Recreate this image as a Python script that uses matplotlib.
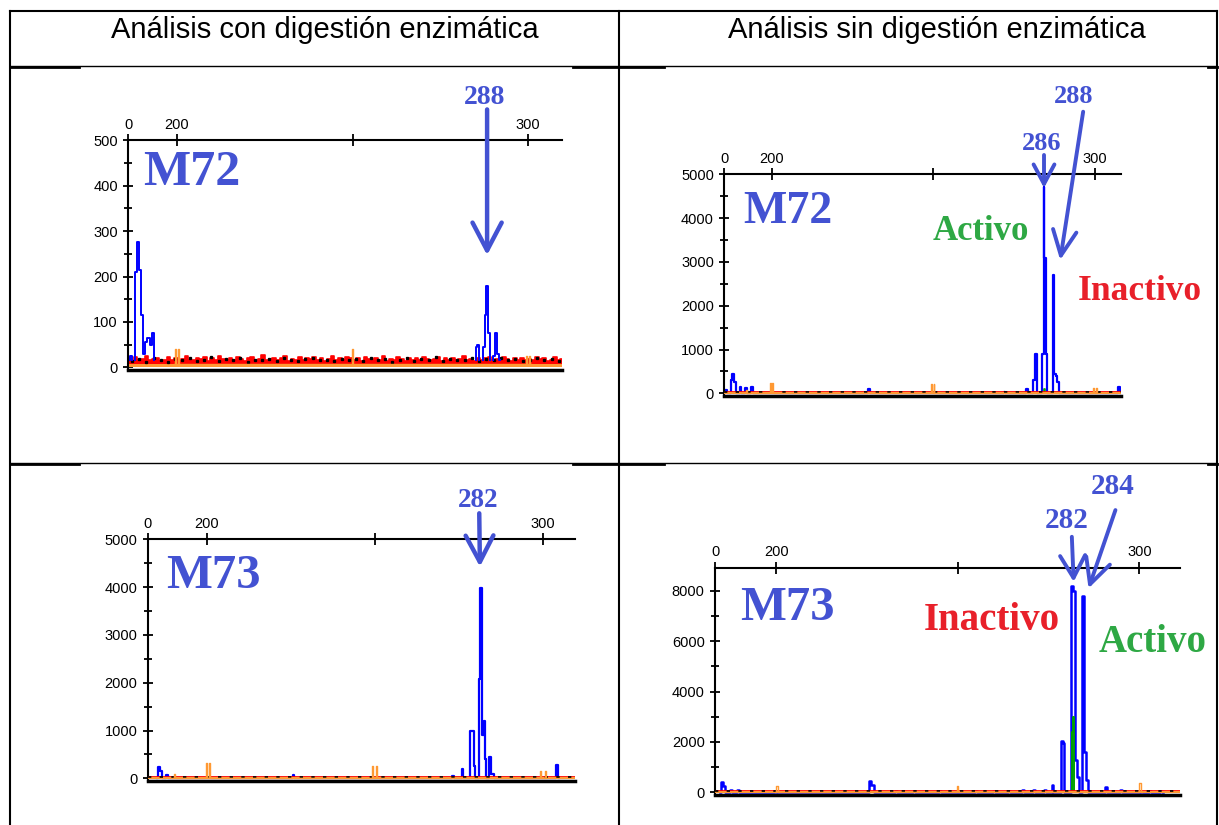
import matplotlib.pyplot as plt
import numpy as np
from matplotlib.ticker import MultipleLocator

plt.rcParams['font.family'] = ['Liberation Sans', 'DejaVu Sans']

# column headers
headers = ['Análisis con digestión enzimática', 'Análisis sin digestión enzimática']

# x tick labels of every electropherogram (top axis)
xtick_pos = [200, 250, 300]
xtick_labels = ['0', '200', '', '300']

# --- M72, with digestion (blue = main dye, orange = size standard)
m72_dig_blue_bp = [187.0, 188.4, 189.1, 189.6, 190.0, 190.5, 191.2, 191.8, 192.7, 193.3,
                   285.3, 285.8, 287.4, 287.9, 288.3, 288.9, 290.3, 291.0, 291.5]
m72_dig_blue_h = [25, 210, 275, 215, 115, 30, 55, 65, 50, 75,
                  45, 50, 45, 115, 180, 75, 25, 75, 30]
m72_dig_orange_bp = [199.6, 200.5, 250.0, 299.6, 300.4]
m72_dig_orange_h = [40, 40, 40, 25, 25]
m72_dig_red_noise = [20, 14, 22, 16, 19, 24, 15, 18, 21, 13, 17, 23, 16, 20, 14, 19, 25, 17,
                     15, 21, 18, 22, 14, 20, 16, 24, 19, 15, 21, 17, 23, 18, 14, 20, 22, 16,
                     19, 27, 15, 18, 21, 16, 20, 24, 14, 19, 17, 22, 15, 21, 18, 23, 16, 20,
                     14, 19, 24, 17, 21, 15, 22, 20, 16, 21, 14, 23, 18, 15, 20, 17, 24, 14,
                     19, 16, 22, 18, 13, 21, 17, 20, 15, 23, 19, 16, 18, 22, 14, 20, 17, 21,
                     15, 19, 24, 16, 18, 14, 21, 17, 20, 22, 15, 19, 16, 23, 18, 14, 20, 17,
                     21, 16, 19, 15, 22, 18, 20, 14, 17, 23, 16, 19]
m72_dig_black_noise = [14, 18, 12, 20, 16, 11, 19, 15, 21, 13, 17, 22, 14, 18, 16, 20, 12, 17,
                       15, 19, 13, 21, 16, 14, 18, 20, 15, 17, 13, 19, 16, 18, 14, 21, 15, 19,
                       12, 17, 20, 14, 18, 16, 22, 13, 19, 15, 17, 20, 14, 18, 16, 21, 15, 19,
                       13, 17, 20, 16, 18, 14]

# --- M72, without digestion
m72_nodig_blue_bp = [186.0, 187.6, 188.2, 188.8, 190.4, 192.1, 194.0, 230.2, 272.0, 279.0,
                     281.1, 281.7, 283.9, 284.2, 284.5, 284.9, 287.1, 287.5, 288.1, 288.6,
                     307.4]
m72_nodig_blue_h = [80, 300, 450, 250, 150, 120, 150, 100, 30, 100,
                    300, 900, 900, 4720, 3100, 900, 2700, 450, 400, 250,
                    150]
m72_nodig_green_bp = [284.3]
m72_nodig_green_h = [100]
m72_nodig_orange_bp = [192.3, 199.6, 200.4, 249.4, 250.2, 299.4, 300.4]
m72_nodig_orange_h = [80, 230, 230, 220, 220, 120, 120]

# --- M73, with digestion
m73_dig_blue_bp = [185.6, 186.5, 188.2, 225.8, 273.2, 276.1, 278.6, 279.2, 279.6, 281.2,
                   281.7, 282.2, 282.6, 282.8, 284.3, 285.1, 304.2]
m73_dig_blue_h = [230, 150, 60, 60, 50, 200, 1000, 1000, 250, 2080,
                  3980, 900, 1200, 400, 450, 100, 280]
m73_dig_orange_bp = [190.3, 199.8, 200.8, 249.4, 250.6, 299.2, 300.7]
m73_dig_orange_h = [90, 310, 310, 250, 250, 150, 150]

# --- M73, without digestion
m73_nodig_blue_bp = [185.0, 185.7, 187.5, 189.5, 225.7, 226.7, 233.0, 238.0, 245.0, 255.0,
                     260.0, 264.0, 268.0, 271.0, 274.0, 276.1, 278.6, 279.1, 281.5, 281.9,
                     282.5, 283.0, 284.5, 285.0, 285.5, 290.9, 295.0, 303.0, 306.0]
m73_nodig_blue_h = [400, 250, 100, 100, 450, 300, 60, 60, 60, 60,
                    70, 70, 80, 80, 90, 300, 2050, 1950, 8200, 8000,
                    1300, 600, 7800, 1600, 500, 200, 80, 60, 60]
m73_nodig_green_bp = [281.5, 281.9]
m73_nodig_green_h = [2400, 3000]
m73_nodig_orange_bp = [200.2, 250.0, 300.2]
m73_nodig_orange_h = [250, 250, 350]

BLUE_TXT = '#4352d2'
RED_TXT = '#e8202a'
GREEN_TXT = '#2ea844'
ORANGE = '#ff9933'
SERIF = ['Liberation Serif', 'DejaVu Serif']

W, H = 1219, 825
fig = plt.figure(figsize=(W / 100, H / 100), dpi=100)

# table frame, in pixel coordinates
bg = fig.add_axes([0, 0, 1, 1])
bg.set_xlim(0, W)
bg.set_ylim(H, 0)
bg.axis('off')
for x in (10, 619, 1217):
    bg.plot([x, x], [11, H], color='k', lw=1.5)
bg.plot([10, 1217], [11, 11], color='k', lw=1.5)
for y in (66, 463):
    bg.plot([10, 1217], [y, y], color='k', lw=1.0)
    for a, b in ((10, 79), (573, 664), (1208, 1217)):
        bg.plot([a, b], [y + 0.5, y + 0.5], color='k', lw=2.0)
bg.text(325, 38.5, headers[0], ha='center', va='baseline', fontsize=21)
bg.text(937, 38.5, headers[1], ha='center', va='baseline', fontsize=21)


def trace(bp, h, w=0.5, base=0.0, gaps=False):
    xs, ys = [], []
    prev = None
    for x, y in sorted(zip(bp, h)):
        if prev is None or x - prev > 2.5 * w:
            if prev is not None:
                xs.append(prev + w)
                ys.append(base)
                if gaps:
                    xs.append(np.nan)
                    ys.append(np.nan)
            xs.append(x - w)
            ys.append(base)
        xs.append(x)
        ys.append(y)
        prev = x
    xs.append(prev + w)
    ys.append(base)
    return xs, ys


def panel(left, right, top, zero, ymax, ystep, xlim):
    pad = 0.012
    bottom = zero + pad * (zero - top)
    ax = fig.add_axes([left / W, 1 - bottom / H, (right - left) / W, (bottom - top) / H])
    ax.set_facecolor('none')
    ax.set_xlim(xlim)
    ax.set_ylim(-pad * ymax, ymax)
    ax.spines['right'].set_visible(False)
    ax.spines['top'].set_linewidth(1.5)
    ax.spines['left'].set_linewidth(1.5)
    ax.spines['bottom'].set_linewidth(2.5)
    ax.xaxis.tick_top()
    ax.set_xticks([xlim[0]] + xtick_pos)
    ax.set_xticklabels(xtick_labels)
    ax.set_yticks(np.arange(0, ymax + 1, ystep))
    ax.yaxis.set_minor_locator(MultipleLocator(ystep / 2))
    ax.tick_params(axis='x', direction='inout', length=8, width=1.3, pad=2, labelsize=10.5)
    ax.tick_params(axis='y', which='major', direction='inout', length=7, width=1.3,
                   pad=4, labelsize=10.5)
    ax.tick_params(axis='y', which='minor', direction='inout', length=6, width=1.3)
    return ax


def baseline(ax, ymax):
    x0, x1 = ax.get_xlim()
    ax.plot([x0, x1], [0.007 * ymax] * 2, color='#ff0000', lw=2, zorder=3)
    ax.plot([x0, x1], [0.0] * 2, color=ORANGE, lw=1.5, zorder=3)
    ax.plot([x0, x1], [0.005 * ymax] * 2, color='k', lw=1.2, ls=(0, (2, 5)), zorder=3)


def arrow(ax, tail, tip, hl, hw, lw=3.2):
    ax.annotate('', xy=tip, xytext=tail, annotation_clip=False,
                arrowprops=dict(arrowstyle=f'->,head_length={hl},head_width={hw}',
                                lw=lw, color=BLUE_TXT, shrinkA=0, shrinkB=0,
                                mutation_scale=10))


def label(ax, x, y, s, size, color=BLUE_TXT, ha='left'):
    ax.text(x, y, s, ha=ha, va='baseline', fontsize=size, color=color,
            family=SERIF, fontweight='bold', clip_on=False)


# ---------------- M72 with digestion
ax = panel(128.3, 562.3, 140.3, 367.3, 500, 100, (186.2, 309.7))
x0, x1 = ax.get_xlim()
xn = np.linspace(x0, x1, len(m72_dig_red_noise))
ax.fill_between(xn, 0, m72_dig_red_noise, step='mid', color='#ff0000', lw=0, zorder=2)
ax.plot(xn, m72_dig_red_noise, drawstyle='steps-mid', color='#ff0000', lw=1.2, zorder=2.05)
ax.fill_between([x0, x1], 0, 8, color=ORANGE, lw=0, zorder=2.1)
ax.plot(np.linspace(x0 + 1, x1 - 1, len(m72_dig_black_noise)), m72_dig_black_noise,
        ls='none', marker='s', ms=1.4, color='k', zorder=2.2)
xs, ys = trace(m72_dig_orange_bp, m72_dig_orange_h, w=0.3, base=8)
ax.plot(xs, ys, drawstyle='steps-mid', color=ORANGE, lw=1.0, zorder=2.3)
xs, ys = trace(m72_dig_blue_bp, m72_dig_blue_h, base=15, gaps=True)
ax.plot(xs, ys, drawstyle='steps-mid', color='#0000ff', lw=1.4, zorder=2.4)
label(ax, 190.5, 401, 'M72', 36)
label(ax, 287.7, 580, '288', 20, ha='center')
arrow(ax, (288.3, 568), (288.3, 247), 2.0, 1.05)

# ---------------- M72 without digestion
ax = panel(724.3, 1120.7, 174.3, 393.3, 5000, 1000, (185.4, 307.9))
xs, ys = trace(m72_nodig_blue_bp, m72_nodig_blue_h)
ax.plot(xs, ys, drawstyle='steps-mid', color='#0000ff', lw=1.6, zorder=2)
xs, ys = trace(m72_nodig_green_bp, m72_nodig_green_h)
ax.plot(xs, ys, drawstyle='steps-mid', color='#00a000', lw=1.2, zorder=2.1)
baseline(ax, 5000)
xs, ys = trace(m72_nodig_orange_bp, m72_nodig_orange_h, w=0.3)
ax.plot(xs, ys, drawstyle='steps-mid', color=ORANGE, lw=1.0, zorder=3.2)
label(ax, 191.2, 3881, 'M72', 33)
label(ax, 283.6, 5555, '286', 19, ha='center')
label(ax, 293.5, 6621, '288', 19, ha='center')
label(ax, 249.9, 3500, 'Activo', 25, color=GREEN_TXT)
label(ax, 294.7, 2130, 'Inactivo', 25.5, color=RED_TXT)
arrow(ax, (284.2, 5441), (284.2, 4687), 1.4, 0.75, lw=2.8)
arrow(ax, (296.3, 6429), (289.2, 3043), 1.8, 0.85, lw=2.8)

# ---------------- M73 with digestion
ax = panel(148, 575, 539.3, 778.3, 5000, 1000, (182.5, 309.6))
xs, ys = trace(m73_dig_blue_bp, m73_dig_blue_h)
ax.plot(xs, ys, drawstyle='steps-mid', color='#0000ff', lw=1.6, zorder=2)
baseline(ax, 5000)
xs, ys = trace(m73_dig_orange_bp, m73_dig_orange_h, w=0.3)
ax.plot(xs, ys, drawstyle='steps-mid', color=ORANGE, lw=1.0, zorder=3.2)
label(ax, 187.9, 3975, 'M73', 35)
label(ax, 280.7, 5669, '282', 19.5, ha='center')
arrow(ax, (281.1, 5544), (281.3, 4427), 1.9, 1.0)

# ---------------- M73 without digestion
ax = panel(715.1, 1180.1, 567.7, 792.3, 8915, 2000, (183.2, 311.2))
xs, ys = trace(m73_nodig_blue_bp, m73_nodig_blue_h)
ax.plot(xs, ys, drawstyle='steps-mid', color='#0000ff', lw=1.8, zorder=2)
xs, ys = trace(m73_nodig_green_bp, m73_nodig_green_h, w=0.2)
ax.plot(xs, ys, drawstyle='steps-mid', color='#00a000', lw=1.4, zorder=2.1)
baseline(ax, 8915)
xs, ys = trace(m73_nodig_orange_bp, m73_nodig_orange_h, w=0.4)
ax.plot(xs, ys, drawstyle='steps-mid', color=ORANGE, lw=1.0, zorder=3.2)
label(ax, 190.1, 6837, 'M73', 35)
label(ax, 280.1, 10488, '282', 21, ha='center')
label(ax, 292.7, 11837, '284', 21, ha='center')
label(ax, 240.7, 6440, 'Inactivo', 28, color=RED_TXT)
label(ax, 288.8, 5579, 'Activo', 28, color=GREEN_TXT)
arrow(ax, (281.4, 10142), (281.9, 8357), 1.6, 0.9, lw=2.8)
arrow(ax, (293.4, 11202), (286.0, 8095), 1.8, 0.9, lw=2.8)

fig.savefig('out.png', dpi=100)
